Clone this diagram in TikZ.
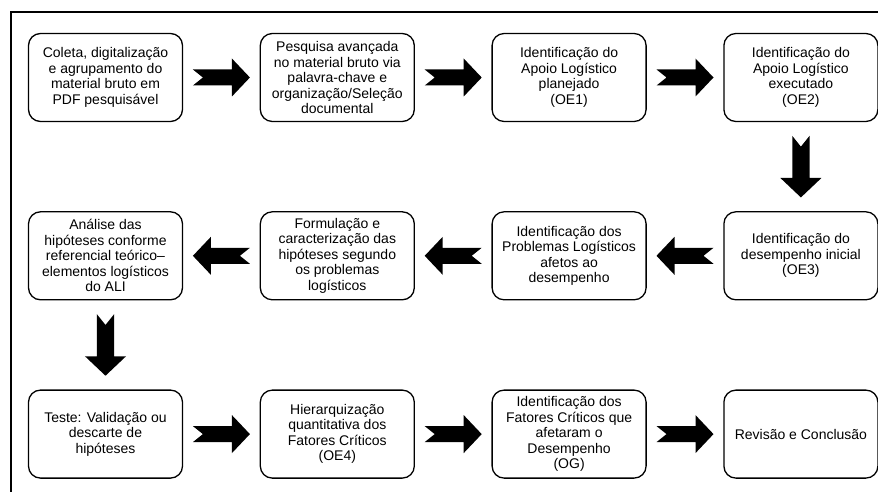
\documentclass[tikz,border=0pt]{standalone}
\usepackage{fontspec}
\setmainfont{Liberation Sans}
\usepackage{tikz}
\usetikzlibrary{positioning, calc}
\tikzset{bigarrow/.pic={\fill (-28.5,-8) -- (10.5,-8) -- (10.5,-19) -- (28.5,0) -- (10.5,19) -- (10.5,8) -- (-28.5,8) -- (-18.5,0) -- cycle;}}

\begin{document}
\begin{tikzpicture}[x=1pt, y=-1pt, node distance=89pt and 76.5pt, node/.style={rectangle, rounded corners=12pt, draw=black, line width=1.3pt, minimum width=154pt, minimum height=88pt, align=center, inner sep=2pt, font=\fontsize{14}{15.5}\selectfont}]
    \useasboundingbox (0,0) rectangle (878,492);
    
    %Frame
    \draw[line width=1.5pt] (11,492) -- (11,12) -- (878,12);
    
    %Nodes
    \node[node](coleta) at (105.5,77.5){Coleta, digitalização\\e agrupamento do\\material bruto em\\PDF pesquisável};
    \node[node](pesquisa)[right=of coleta]{Pesquisa avançada\\no material bruto via\\palavra-chave e\\organização/Seleção\\documental};
    \node[node](planejado)[right=of pesquisa]{Identificação do\\Apoio Logístico\\planejado\\(OE1)};
    \node[node](executado)[right=of planejado]{Identificação do\\Apoio Logístico\\executado\\(OE2)};
    \node[node](desempenho)[below=of executado]{Identificação do\\desempenho inicial\\(OE3)};
    \node[node](problemas)[below=of planejado]{Identificação dos\\Problemas Logísticos\\afetos ao\\desempenho};
    \node[node](formulacao)[below=of pesquisa]{Formulação e\\caracterização das\\hipóteses segundo\\os problemas\\logísticos};
    \node[node](analise)[below=of coleta]{Análise das\\hipóteses conforme\\referencial teórico–\\elementos logísticos\\do ALI};
    \node[node](teste)[below=of analise]{Teste: Validação ou\\descarte de\\hipóteses};
    \node[node](hierarquia)[right=of teste]{Hierarquização\\quantitativa dos\\Fatores Críticos\\(OE4)};
    \node[node](fatores)[right=of hierarquia]{Identificação dos\\Fatores Críticos que\\afetaram o\\Desempenho\\(OG)};
    \node[node](revisao)[right=of fatores]{Revisão e Conclusão};
    
    %Arrows
    \path ($(coleta.east)!0.5!(pesquisa.west)$) pic{bigarrow};
    \path ($(pesquisa.east)!0.5!(planejado.west)$) pic{bigarrow};
    \path ($(planejado.east)!0.5!(executado.west)$) pic{bigarrow};
    \path ($(executado.south)!0.5!(desempenho.north)$) pic[rotate=-90, scale=1.08]{bigarrow};
    \path ($(desempenho.west)!0.5!(problemas.east)$) pic[rotate=180]{bigarrow};
    \path ($(problemas.west)!0.5!(formulacao.east)$) pic[rotate=180]{bigarrow};
    \path ($(formulacao.west)!0.5!(analise.east)$) pic[rotate=180]{bigarrow};
    \path ($(analise.south)!0.5!(teste.north)$) pic[rotate=-90, scale=1.08]{bigarrow};
    \path ($(teste.east)!0.5!(hierarquia.west)$) pic{bigarrow};
    \path ($(hierarquia.east)!0.5!(fatores.west)$) pic{bigarrow};
    \path ($(fatores.east)!0.5!(revisao.west)$) pic{bigarrow};
    
\end{tikzpicture}
\end{document}
